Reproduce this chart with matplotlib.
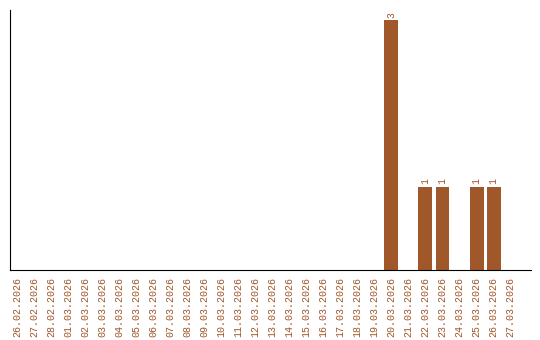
import matplotlib
matplotlib.use("Agg")
import matplotlib.pyplot as plt
import numpy as np
import datetime as dt

start = dt.date(2026, 2, 26)
dates = [(start + dt.timedelta(days=i)).strftime("%d.%m.%Y") for i in range(30)]
counts_map = {"20.03.2026": 3, "22.03.2026": 1, "23.03.2026": 1, "25.03.2026": 1, "26.03.2026": 1}
values = [counts_map.get(d, 0) for d in dates]

color = "#A0572A"
fig = plt.figure(figsize=(5.4, 3.4), dpi=100)
ax = fig.add_axes([10/540, 70/340, 521/540, 260/340])
x = np.arange(len(dates))
bars = ax.bar(x, values, width=0.82, color=color)
for xi, v in zip(x, values):
    if v > 0:
        ax.text(xi, v + 0.03, str(v), rotation=90, ha="center", va="bottom",
                fontsize=7, family="Liberation Mono", color=color)
ax.set_xlim(-0.41, 30.2)
ax.set_ylim(0, 3.12)
ax.set_xticks(x)
ax.set_xticklabels(dates, rotation=90, fontsize=7.2, family="Liberation Mono", color=color)
ax.tick_params(axis="x", length=0, pad=5)
ax.set_yticks([])
ax.spines["top"].set_visible(False)
ax.spines["right"].set_visible(False)
fig.savefig("out.png", dpi=100)
